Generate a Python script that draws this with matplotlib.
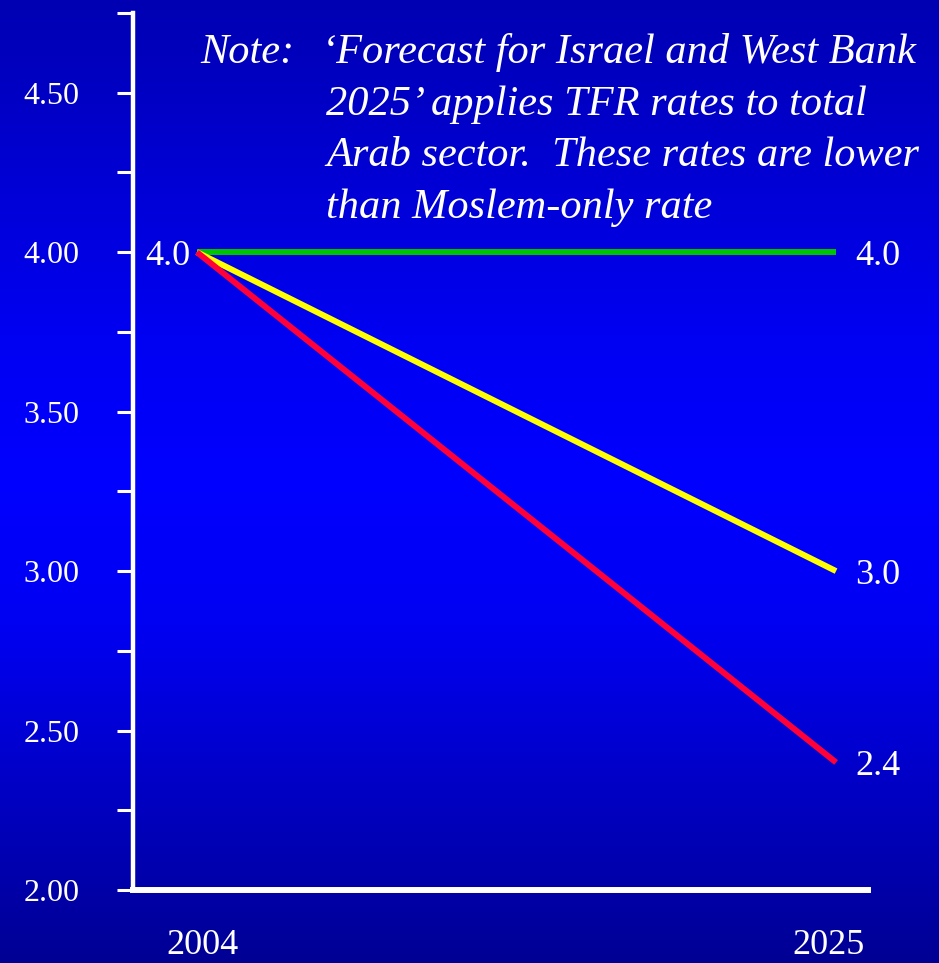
import numpy as np
import matplotlib
matplotlib.use('Agg')
import matplotlib.pyplot as plt
import matplotlib.transforms as mtransforms
from matplotlib.colors import LinearSegmentedColormap

# data
years = [2004, 2025]
tfr_flat = [4.0, 4.0]
tfr_mid = [4.0, 3.0]
tfr_low = [4.0, 2.4]
line_colors = ['#00c400', '#ffff00', '#ff0038']
ytick_vals = np.arange(2.0, 4.76, 0.25)
note_head = 'Note:'
note_lines = [
    '\u2018Forecast for Israel and West Bank',
    '2025\u2019 applies TFR rates to total',
    'Arab sector.  These rates are lower',
    'than Moslem-only rate',
]

plt.rcParams['font.family'] = ['Liberation Serif', 'DejaVu Serif']

fig = plt.figure(figsize=(9.39, 9.63), dpi=100)

# background gradient (darker blue top/bottom, bright blue in the middle)
bg = fig.add_axes([0, 0, 1, 1], zorder=-10)
cmap = LinearSegmentedColormap.from_list('bg', [
    (0.0, (0, 0, 0.70)),
    (0.35, (0, 0, 0.95)),
    (0.5, (0, 0, 1.0)),
    (0.65, (0, 0, 0.95)),
    (1.0, (0, 0, 0.58)),
])
grad = np.linspace(0, 1, 512).reshape(-1, 1)
bg.imshow(grad, aspect='auto', cmap=cmap, extent=[0, 1, 0, 1], origin='upper')
bg.set_axis_off()

ax = fig.add_axes([0.1416, 0.0758, 0.7828, 0.9107])
ax.patch.set_alpha(0)

for vals, c in zip([tfr_flat, tfr_mid, tfr_low], line_colors):
    ax.plot(years, vals, color=c, lw=4.3, solid_capstyle='butt')
    ax.annotate(f'{vals[-1]:.1f}', (years[-1], vals[-1]), xytext=(14, 0),
                textcoords='offset points', ha='left', va='center_baseline',
                color='white', fontsize=26)
ax.annotate(f'{tfr_flat[0]:.1f}', (years[0], tfr_flat[0]), xytext=(-5, 0),
            textcoords='offset points', ha='right', va='center_baseline',
            color='white', fontsize=26)

ax.set_xlim(2001.9, 2026.05)
ax.set_ylim(2.0, 4.75)
ax.set_xticks(years)
ax.set_xticklabels([str(y) for y in years])
ax.set_yticks(ytick_vals)
ax.set_yticklabels([f'{v:.2f}' if abs(v * 2 - round(v * 2)) < 1e-6 else '' for v in ytick_vals])

for s in ['top', 'right']:
    ax.spines[s].set_visible(False)
ax.spines['left'].set_color('white')
ax.spines['left'].set_linewidth(3.2)
ax.spines['bottom'].set_color('white')
ax.spines['bottom'].set_linewidth(4.3)
ax.tick_params(axis='y', colors='white', length=11.5, width=2.2, pad=27, labelsize=23)
ax.tick_params(axis='x', colors='white', length=0, pad=28, labelsize=26)

# year labels sit slightly inward of the line ends
for lab, dx in zip(ax.get_xticklabels(), [6, -8]):
    lab.set_transform(lab.get_transform() +
                      mtransforms.ScaledTranslation(dx / 100, 0, fig.dpi_scale_trans))

# note block, italic
fig.text(200 / 939, 1 - 63 / 963, note_head, color='white', fontsize=30.5,
         style='italic', ha='left', va='baseline')
fig.text(322 / 939, 1 - 63 / 963, note_lines[0], color='white', fontsize=30.5,
         style='italic', ha='left', va='baseline')
for i, line in enumerate(note_lines[1:]):
    fig.text(326 / 939, 1 - (115 + 51.5 * i) / 963, line, color='white', fontsize=30.5,
             style='italic', ha='left', va='baseline')

fig.savefig('out.png', dpi=100)
